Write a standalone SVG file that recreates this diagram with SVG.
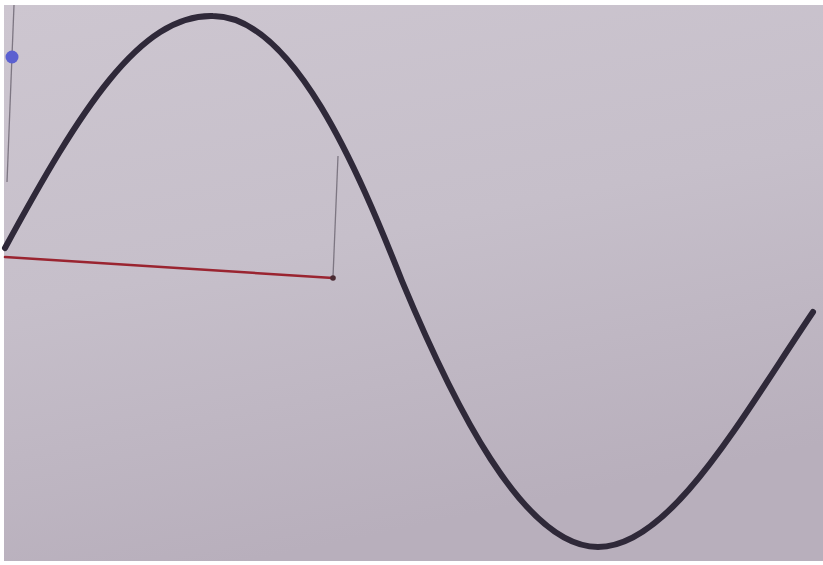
<svg xmlns="http://www.w3.org/2000/svg" width="823" height="565" viewBox="0 0 823 565">
  <defs>
    <linearGradient id="bg" x1="0" y1="0" x2="0.3" y2="1">
      <stop offset="0" stop-color="#cdc6d0"/>
      <stop offset="0.5" stop-color="#c6bfca"/>
      <stop offset="1" stop-color="#b8afbc"/>
    </linearGradient>
    <style>
      .curve{fill:none;stroke:#2f2939;stroke-width:6;stroke-linecap:round;stroke-linejoin:round}
      .guide{fill:none;stroke:#7d7682;stroke-width:1.3}
      .seg{fill:none;stroke:#9a2430;stroke-width:2.6;stroke-linecap:round}
    </style>
  </defs>
  <rect x="0" y="0" width="823" height="565" fill="#ffffff"/>
  <rect x="4" y="5" width="819" height="556" fill="url(#bg)"/>
  <g id="connectors">
    <path id="guide-left" class="guide" d="M14,5 L7,182"/>
    <path id="guide-right" class="guide" d="M338,156 L333,277"/>
    <path id="red-segment" class="seg" d="M5,257 L333,278"/>
  </g>
  <g id="sine-curve">
    <path class="curve" d="M5,248 C80,110 140,14 213,16 C293,16 358,170 402,281 C452,401 523,547 598,547 C670,547 740,420 813,312"/>
  </g>
  <g id="blue-point">
    <circle cx="12" cy="57" r="6.5" fill="#5b60d0"/>
  </g>
  <g id="end-point">
    <circle cx="333" cy="278" r="2.8" fill="#4a2a32"/>
  </g>
</svg>
